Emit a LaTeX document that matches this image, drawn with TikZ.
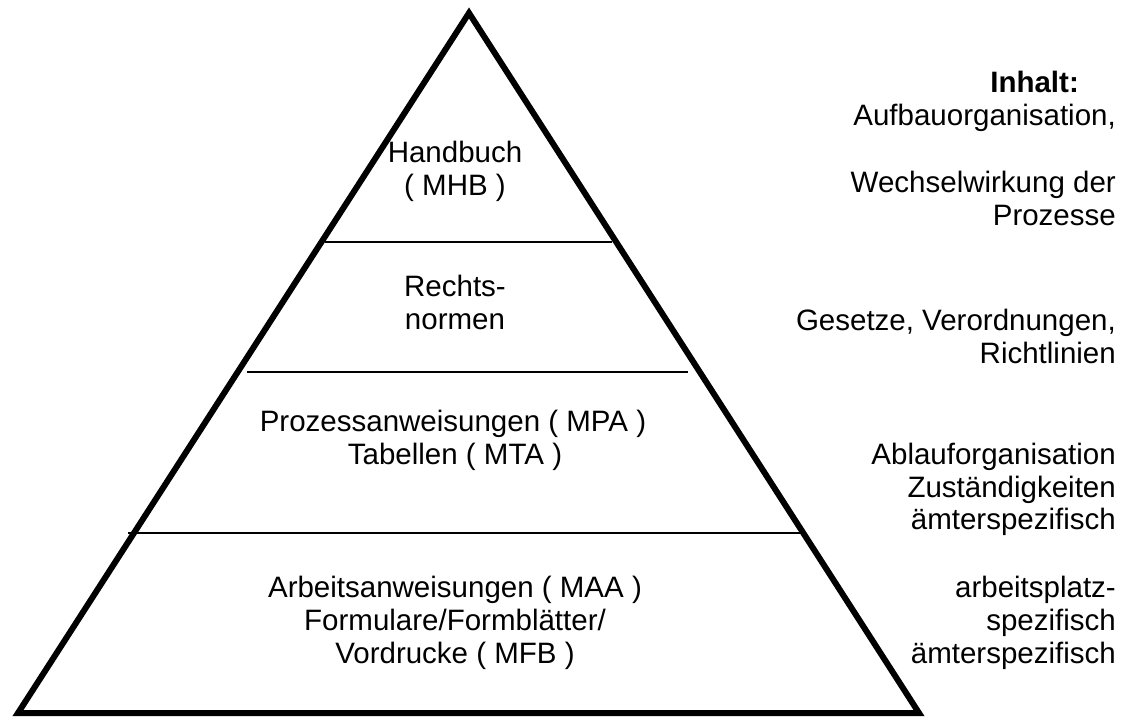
\documentclass[tikz,border=0pt]{standalone}
\usepackage{fontspec}
\setmainfont{Liberation Sans}
\begin{document}
\begin{tikzpicture}[x=1pt,y=-1pt,
  txt/.style={inner sep=0pt,font=\fontsize{29.5}{33}\selectfont},
  lt/.style={txt,anchor=base},
  rt/.style={txt,anchor=base east},
  edge/.style={line width=6pt,line join=miter,miter limit=10},
  sep/.style={line width=2.5pt}]
\useasboundingbox (0,0) rectangle (1131,716);
% pyramid
\coordinate (apex) at (469,13);
\coordinate (bl) at (18,713);
\coordinate (br) at (919,713);
\draw[edge] (apex) -- (bl) -- (br) -- cycle;
% separators
\coordinate (a1) at (325,242); \coordinate (b1) at (612,242);
\coordinate (a2) at (247,372); \coordinate (b2) at (688,372);
\coordinate (a3) at (128,533); \coordinate (b3) at (801,533);
\draw[sep] (a1) -- (b1);
\draw[sep] (a2) -- (b2);
\draw[sep] (a3) -- (b3);
% left texts
\node[lt] (h1) at (455,162) {Handbuch};
\node[lt] (h2) at (455,195) {( MHB )};
\node[lt] (r1) at (455,296) {Rechts-};
\node[lt] (r2) at (455,329) {normen};
\node[lt] (p1) at (453,431) {Prozessanweisungen ( MPA )};
\node[lt] (p2) at (455,464) {Tabellen ( MTA )};
\node[lt] (w1) at (455,597) {Arbeitsanweisungen ( MAA )};
\node[lt] (w2) at (455,630) {Formulare/Formblätter/};
\node[lt] (w3) at (455,663) {Vordrucke ( MFB )};
% right texts
\node[rt,font=\fontsize{29.5}{33}\selectfont\bfseries] (i0) at (1079,92) {Inhalt:};
\node[rt] (i1) at (1116,125) {Aufbauorganisation,};
\node[rt] (i2) at (1116,192) {Wechselwirkung der};
\node[rt] (i3) at (1116,225) {Prozesse};
\node[rt] (g1) at (1116,330) {Gesetze, Verordnungen,};
\node[rt] (g2) at (1116,363) {Richtlinien};
\node[rt] (o1) at (1116,464) {Ablauforganisation};
\node[rt] (o2) at (1116,497) {Zuständigkeiten};
\node[rt] (o3) at (1116,529) {ämterspezifisch};
\node[rt] (s1) at (1116,597) {arbeitsplatz-};
\node[rt] (s2) at (1116,630) {spezifisch};
\node[rt] (s3) at (1116,663) {ämterspezifisch};
\end{tikzpicture}
\end{document}
